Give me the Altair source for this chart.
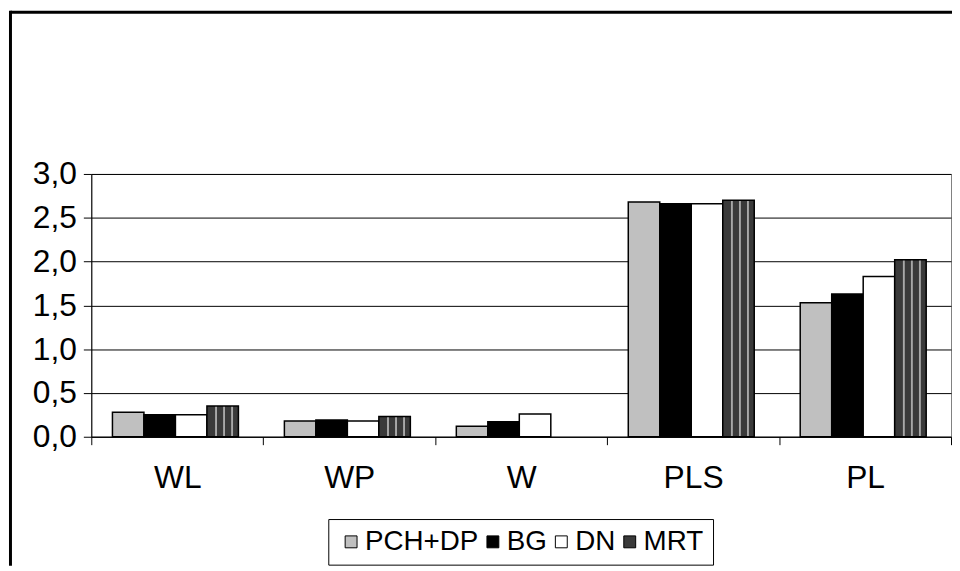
import altair as alt
import pandas as pd

categories = ["WL", "WP", "W", "PLS", "PL"]
series = ["PCH+DP", "BG", "DN", "MRT"]
pch_dp = [0.28, 0.18, 0.12, 2.68, 1.53]
bg = [0.25, 0.19, 0.17, 2.66, 1.63]
dn = [0.25, 0.18, 0.26, 2.66, 1.83]
mrt = [0.35, 0.23, None, 2.70, 2.02]
y_ticks = [0.0, 0.5, 1.0, 1.5, 2.0, 2.5, 3.0]

colors = ["#c0c0c0", "#000000", "#ffffff", "#3a3a3a"]

rows = []
for s, vals in zip(series, [pch_dp, bg, dn, mrt]):
    for c, v in zip(categories, vals):
        if v is not None:
            rows.append({"category": c, "series": s, "value": v})
df = pd.DataFrame(rows)

dark = "#3a3a3a"
light = "#a8a8a8"
stops = [{"offset": 0.0, "color": dark}]
for c in [0.29, 0.545, 0.80]:
    stops += [
        {"offset": c - 0.045, "color": dark},
        {"offset": c - 0.015, "color": light},
        {"offset": c + 0.015, "color": light},
        {"offset": c + 0.045, "color": dark},
    ]
stops.append({"offset": 1.0, "color": dark})
stripes = {"gradient": "linear", "x1": 0, "y1": 0, "x2": 1, "y2": 0, "stops": stops}

FONT = "Liberation Sans"
W, H = 867, 265
PAD = {"left": 84, "top": 165, "right": 1, "bottom": 130}

bars = alt.Chart(df).mark_bar(stroke="black", strokeWidth=1.5).encode(
    x=alt.X(
        "category:N",
        sort=categories,
        scale=alt.Scale(paddingInner=0, paddingOuter=0),
        axis=alt.Axis(
            title=None,
            labelAngle=0,
            labelFont=FONT,
            labelFontSize=32,
            labelColor="black",
            labelPadding=18,
            tickBand="extent",
            tickSize=8,
            tickColor="black",
            domainColor="black",
            grid=False,
        ),
    ),
    xOffset=alt.XOffset(
        "series:N",
        sort=series,
        scale=alt.Scale(paddingInner=0, paddingOuter=0.73, align=0.46),
    ),
    y=alt.Y(
        "value:Q",
        scale=alt.Scale(domain=[0, 3], nice=False),
        axis=alt.Axis(
            title=None,
            values=y_ticks,
            labelExpr="replace(format(datum.value, '.1f'), '.', ',')",
            labelFont=FONT,
            labelFontSize=32,
            labelColor="black",
            labelPadding=7,
            tickSize=8,
            tickColor="black",
            domainColor="black",
            grid=True,
            gridColor="black",
            gridWidth=1,
        ),
    ),
    fill=alt.condition(
        alt.datum.series == "MRT",
        alt.value(stripes),
        alt.Fill(
            "series:N",
            scale=alt.Scale(domain=series, range=colors),
            legend=alt.Legend(
                title=None,
                orient="none",
                direction="horizontal",
                legendX=239,
                legendY=348,
                symbolType="square",
                symbolSize=144,
                symbolStrokeColor="black",
                symbolStrokeWidth=1,
                symbolOpacity=1,
                labelFont=FONT,
                labelFontSize=28,
                labelColor="black",
                labelOffset=0,
                columnPadding=0,
                padding=9,
                strokeColor="black",
                fillColor="white",
            ),
        ),
    ),
)

frame_src = pd.DataFrame({"f": [0]})
frame_top = alt.Chart(frame_src).mark_rule(stroke="black", strokeWidth=3).encode(
    x=alt.value(-81.5),
    x2=alt.value(W + PAD["right"]),
    y=alt.value(-163),
)
frame_left = alt.Chart(frame_src).mark_rule(stroke="black", strokeWidth=3).encode(
    x=alt.value(-81.5),
    y=alt.value(-164.5),
    y2=alt.value(H + PAD["bottom"]),
)

chart = alt.layer(bars, frame_top, frame_left).properties(
    width=W,
    height=H,
    padding=PAD,
    autosize=alt.AutoSizeParams(type="none"),
    background="white",
).configure_view(stroke="#808080", strokeWidth=1)

chart.save("out.html", embed_options={"renderer": "svg", "actions": False})
